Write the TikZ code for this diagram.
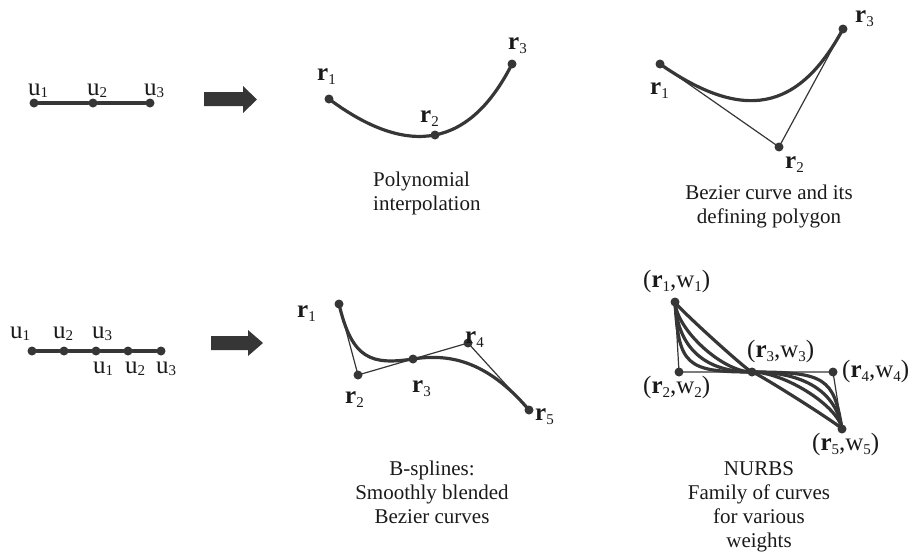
\documentclass[tikz,border=0pt]{standalone}
\usepackage{fontspec}
\setmainfont{Liberation Serif}
\usetikzlibrary{calc}
\definecolor{dk}{HTML}{363636}
\definecolor{txt}{HTML}{1A1A1A}
\newcommand\lsub[1]{\raisebox{-4pt}{\fontsize{15}{15}\selectfont #1}}
\newcommand\usub[1]{\raisebox{-2.5pt}{\fontsize{15}{15}\selectfont #1}}
\tikzset{
  dot/.style={circle, fill=dk, draw=none, inner sep=0pt, minimum size=9pt},
  lab/.style={inner sep=0pt, anchor=base west, text=txt, font=\fontsize{25}{30}\selectfont},
  captext/.style={inner sep=0pt, anchor=base, text=txt, align=center, font=\fontsize{21}{24}\selectfont},
  thickline/.style={draw=dk, line width=3.2pt, line cap=round},
  thinline/.style={draw=dk, line width=1.2pt},
  blockarrow/.style={fill=dk, draw=none}
}
\begin{document}
\begin{tikzpicture}[x=1pt,y=-1pt]
\useasboundingbox (0,0) rectangle (913,552);

% ---------- Panel 1: parameters ----------
\node[dot] (pu1) at (34,103) {};
\node[dot] (pu2) at (93,103) {};
\node[dot] (pu3) at (150,103) {};
\draw[thickline] (pu1) -- (pu2) -- (pu3);
\node[lab] (lpu1) at (28,95) {u\usub{1}};
\node[lab] (lpu2) at (87,95) {u\usub{2}};
\node[lab] (lpu3) at (144,95) {u\usub{3}};
\fill[blockarrow] (204,92) -- (243,92) -- (243,86) -- (257,99.5) -- (243,113) -- (243,106) -- (204,106) -- cycle;

% ---------- Panel 2: polynomial ----------
\node[dot] (pr1) at (329,99) {};
\node[dot] (pr2) at (435,135) {};
\node[dot] (pr3) at (512,64) {};
\draw[thickline] (pr1.center) .. controls (409,158.7) and (470,147) .. (pr3.center);
\node[lab] (lpr1) at (317,80) {\textbf{r}\lsub{1}};
\node[lab] (lpr2) at (420,122) {\textbf{r}\lsub{2}};
\node[lab] (lpr3) at (508,49) {\textbf{r}\lsub{3}};
\node[captext, anchor=base west, align=left] (cpoly) at (373,210) {Polynomial\\interpolation};

% ---------- Panel 3: Bezier ----------
\node[dot] (br1) at (660,64) {};
\node[dot] (br2) at (779,147) {};
\node[dot] (br3) at (843,29) {};
\draw[thinline] (br1.center) -- (br2.center) -- (br3.center);
\draw[thickline] (br1.center) .. controls ($(br1.center)!0.7!(br2.center)$) and ($(br3.center)!0.7!(br2.center)$) .. (br3.center);
\node[lab] (lbr1) at (650,94) {\textbf{r}\lsub{1}};
\node[lab] (lbr2) at (785,168) {\textbf{r}\lsub{2}};
\node[lab] (lbr3) at (855,22) {\textbf{r}\lsub{3}};
\node[captext] (cbez) at (769,223) {Bezier curve and its\\defining polygon};

% ---------- Panel 4: B-spline parameters ----------
\node[dot] (qu1) at (32,351) {};
\node[dot] (qu2) at (64,351) {};
\node[dot] (qu3) at (96,351) {};
\node[dot] (qu4) at (128,351) {};
\node[dot] (qu5) at (161,351) {};
\draw[thickline] (qu1) -- (qu2) -- (qu3) -- (qu4) -- (qu5);
\node[lab] (lqa1) at (10,338) {u\usub{1}};
\node[lab] (lqa2) at (53,338) {u\usub{2}};
\node[lab] (lqa3) at (92,338) {u\usub{3}};
\node[lab] (lqb1) at (93,373) {u\usub{1}};
\node[lab] (lqb2) at (125,373) {u\usub{2}};
\node[lab] (lqb3) at (156,373) {u\usub{3}};
\fill[blockarrow] (211,336) -- (248,336) -- (248,330) -- (263,343) -- (248,356) -- (248,350) -- (211,350) -- cycle;

% ---------- Panel 5: B-spline ----------
\node[dot] (sr1) at (339,304) {};
\node[dot] (sr2) at (358,375) {};
\node[dot] (sr3) at (413,359) {};
\node[dot] (sr4) at (468,343) {};
\node[dot] (sr5) at (529,410) {};
\draw[thinline] (sr1.center) -- (sr2.center) -- (sr3.center) -- (sr4.center) -- (sr5.center);
\draw[thickline] (sr1.center) .. controls (352,360) and (372,365) .. (sr3.center)
  .. controls (446,354) and (485,358) .. (sr5.center);
\node[lab] (lsr1) at (297,317) {\textbf{r}\lsub{1}};
\node[lab] (lsr2) at (345,403) {\textbf{r}\lsub{2}};
\node[lab] (lsr3) at (412,392) {\textbf{r}\lsub{3}};
\node[lab] (lsr4) at (465,343) {\textbf{r}\lsub{4}};
\node[lab] (lsr5) at (535,420) {\textbf{r}\lsub{5}};
\node[captext] (cbsp) at (432,523) {B-splines:\\Smoothly blended\\Bezier curves};

% ---------- Panel 6: NURBS ----------
\node[dot] (nr1) at (675,302) {};
\node[dot] (nr2) at (679,372) {};
\node[dot] (nr3) at (752,372) {};
\node[dot] (nr4) at (833,372) {};
\node[dot] (nr5) at (842,429) {};
\draw[thinline] (nr1.center) -- (nr2.center) -- (nr4.center) -- (nr5.center);
\foreach \k in {0.05,0.4,0.65,0.9}{
  \draw[thickline] (nr1.center) .. controls ($(nr1.center)!\k!(nr2.center)$) and ($(nr3.center)!\k!(nr2.center)$) .. (nr3.center)
    .. controls ($(nr3.center)!\k!(nr4.center)$) and ($(nr5.center)!\k!(nr4.center)$) .. (nr5.center);
}
\node[lab] (lnr1) at (643,287) {(\textbf{r}\lsub{1},w\lsub{1})};
\node[lab] (lnr2) at (643,393) {(\textbf{r}\lsub{2},w\lsub{2})};
\node[lab] (lnr3) at (747,357) {(\textbf{r}\lsub{3},w\lsub{3})};
\node[lab] (lnr4) at (842,377) {(\textbf{r}\lsub{4},w\lsub{4})};
\node[lab] (lnr5) at (812,450) {(\textbf{r}\lsub{5},w\lsub{5})};
\node[captext] (cnurbs) at (759,547) {NURBS\\Family of curves\\for various\\weights};
\end{tikzpicture}
\end{document}
